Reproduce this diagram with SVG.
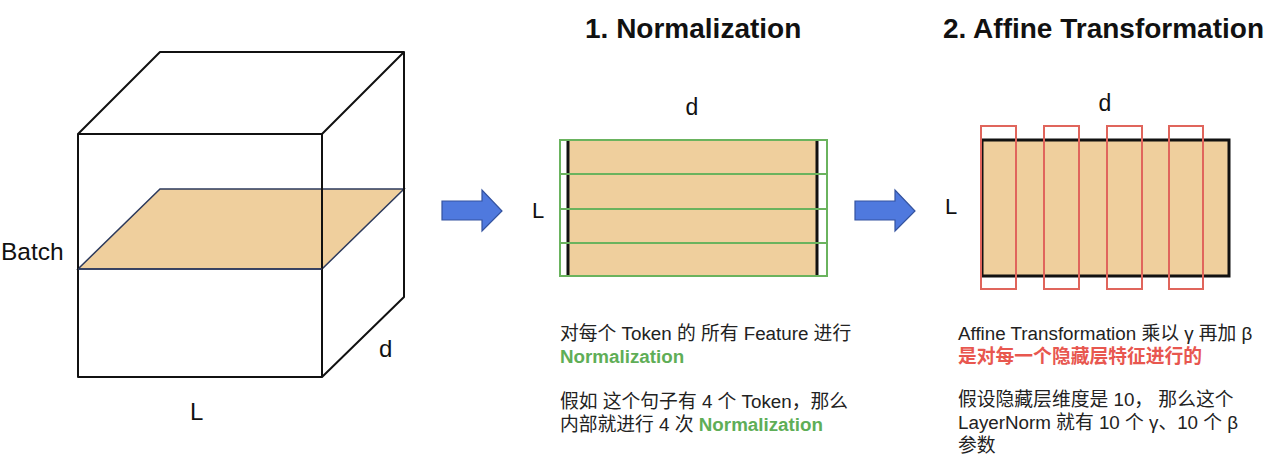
<svg xmlns="http://www.w3.org/2000/svg" width="1280" height="469" viewBox="0 0 1280 469">
<style>
  .lbl { font-family: "Liberation Sans", Arial, sans-serif; fill: #111; }
  .title { font-family: "Liberation Sans", Arial, sans-serif; font-weight: bold; font-size: 28px; fill: #111; }
  .body { font-family: "Liberation Sans", "Noto Sans CJK SC", sans-serif; font-size: 18.8px; fill: #222; }
  .green { fill: #5fae57; font-weight: bold; }
  .red { fill: #e8574f; font-weight: bold; }
  .edge { fill: none; stroke: #111; stroke-width: 2; stroke-linejoin: round; }
  .slab { fill: #efcf9d; }
  .grect { fill: none; stroke: #6ab35e; stroke-width: 2; }
  .rrect { fill: none; stroke: #e0655c; stroke-width: 2; }
  .arrow { fill: #4f79de; stroke: #34539f; stroke-width: 1.2; }
</style>
<rect width="1280" height="469" fill="#ffffff"/>

<g id="cube">
  <polygon points="78,269 322,269 404,189 160,189" fill="#efcf9d" stroke="#2d3a5c" stroke-width="1.5"/>
  <rect class="edge" x="78" y="134" width="244" height="243"/>
  <polyline class="edge" points="78,134 160,52 404,52 322,134"/>
  <polyline class="edge" points="404,52 404,297 322,377"/>
  <line x1="78" y1="269" x2="322" y2="269" stroke="#2d3a5c" stroke-width="1.5"/>
  <text class="lbl" x="1" y="260" font-size="24.5">Batch</text>
  <text class="lbl" x="379" y="357" font-size="24">d</text>
  <text class="lbl" x="190" y="420" font-size="24">L</text>
</g>

<g id="connectors">
  <polygon class="arrow" points="442,201 482,201 482,190 502,211 482,231 482,220 442,220"/>
  <polygon class="arrow" points="855,201 895,201 895,190 915,211 895,231 895,220 855,220"/>
</g>

<g id="normalization">
  <text class="title" x="585" y="38">1. Normalization</text>
  <text class="lbl" x="692" y="115" font-size="23" text-anchor="middle">d</text>
  <text class="lbl" x="532" y="218" font-size="22">L</text>
  <rect class="slab" x="568" y="140" width="249" height="136"/>
  <rect x="568" y="140" width="249" height="136" fill="none" stroke="#111" stroke-width="2"/>
  <line x1="568" y1="140" x2="568" y2="276" stroke="#111" stroke-width="3"/>
  <line x1="817" y1="140" x2="817" y2="276" stroke="#111" stroke-width="3"/>
  <rect class="grect" x="560" y="140" width="267" height="34"/>
  <rect class="grect" x="560" y="174" width="267" height="35"/>
  <rect class="grect" x="560" y="209" width="267" height="34"/>
  <rect class="grect" x="560" y="243" width="267" height="33"/>
  <text class="body" x="560" y="340">对每个 Token 的 所有 Feature 进行</text>
  <text class="body green" x="560" y="363">Normalization</text>
  <text class="body" x="560" y="408">假如 这个句子有 4 个 Token，那么</text>
  <text class="body" x="560" y="431">内部就进行 4 次 <tspan class="green">Normalization</tspan></text>
</g>

<g id="affine">
  <text class="title" x="943" y="38">2. Affine Transformation</text>
  <text class="lbl" x="1105" y="111" font-size="23" text-anchor="middle">d</text>
  <text class="lbl" x="945" y="214" font-size="22">L</text>
  <rect class="slab" x="982" y="140" width="247" height="136"/>
  <rect x="982" y="140" width="247" height="136" fill="none" stroke="#111" stroke-width="3"/>
  <rect class="rrect" x="981" y="126" width="35" height="163"/>
  <rect class="rrect" x="1044" y="126" width="35" height="163"/>
  <rect class="rrect" x="1107" y="126" width="35" height="163"/>
  <rect class="rrect" x="1169" y="126" width="34" height="163"/>
  <text class="body" x="958" y="340">Affine Transformation 乘以 γ 再加 β</text>
  <text class="body red" x="958" y="363">是对每一个隐藏层特征进行的</text>
  <text class="body" x="958" y="406">假设隐藏层维度是 10， 那么这个</text>
  <text class="body" x="958" y="429">LayerNorm 就有 10 个 γ、10 个 β</text>
  <text class="body" x="958" y="452">参数</text>
</g>
</svg>
